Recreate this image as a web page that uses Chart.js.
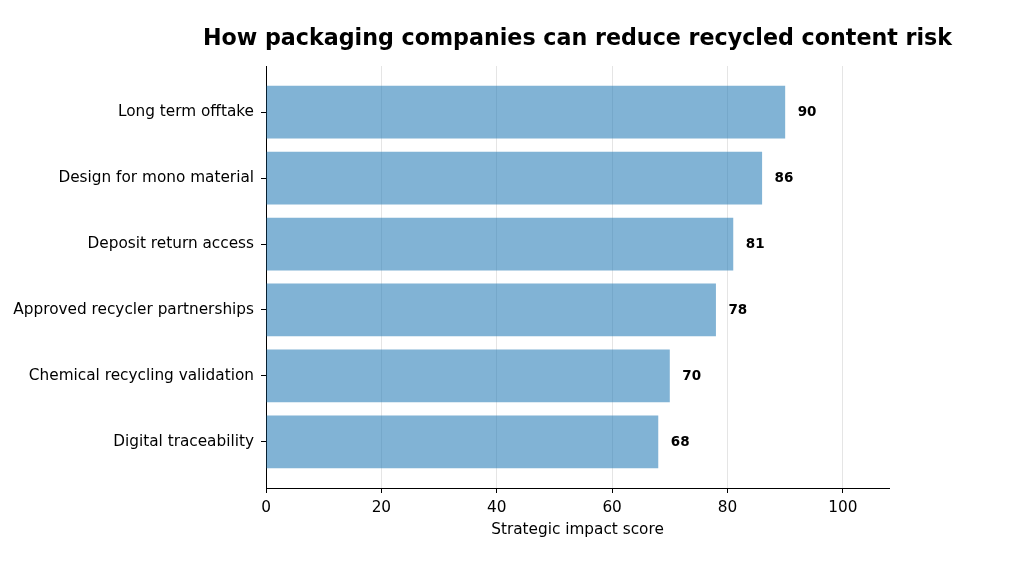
<!DOCTYPE html>
<html>
<head>
<meta charset="utf-8">
<script src="https://cdn.jsdelivr.net/npm/chart.js@4.4.1/dist/chart.umd.min.js"></script>
<style>
    html, body { margin: 0; padding: 0; background: #fff; }
    #wrap { width: 1031px; height: 567px; }
</style>
</head>
<body>
<div id="wrap"><canvas id="impactChart" width="1031" height="567"></canvas></div>
<script>
// Data
const categories = [
    'Long term offtake',
    'Design for mono material',
    'Deposit return access',
    'Approved recycler partnerships',
    'Chemical recycling validation',
    'Digital traceability'
];
const scores = [90, 86, 81, 78, 70, 68];
const xTicks = [0, 20, 40, 60, 80, 100];
const chartTitle = 'How packaging companies can reduce recycled content risk';

const FONT = "'DejaVu Sans', 'Liberation Sans', sans-serif";

// Value labels at bar ends + title centred over the plot area
const valueLabels = {
    id: 'valueLabels',
    afterDatasetsDraw(chart) {
        const ctx = chart.ctx;
        const meta = chart.getDatasetMeta(0);
        ctx.save();
        ctx.font = 'bold 13.5px ' + FONT;
        ctx.fillStyle = '#000';
        ctx.textAlign = 'left';
        ctx.textBaseline = 'middle';
        meta.data.forEach((bar, i) => {
            ctx.fillText(String(scores[i]), bar.x + 12.5, bar.y + 0.5);
        });

        const area = chart.chartArea;
        ctx.font = 'bold 22.2px ' + FONT;
        ctx.textAlign = 'center';
        ctx.fillText(chartTitle, (area.left + area.right) / 2, 39);
        ctx.restore();
    }
};

new Chart(document.getElementById('impactChart'), {
    type: 'bar',
    data: {
        datasets: [{
            data: scores.map((v, i) => ({ x: v, y: i })),
            backgroundColor: 'rgba(31, 119, 180, 0.56)',
            borderWidth: 0,
            categoryPercentage: 1,
            barPercentage: 0.8
        }]
    },
    options: {
        indexAxis: 'y',
        responsive: false,
        animation: false,
        layout: { padding: { left: 0, right: 142, top: 66, bottom: 0 } },
        plugins: {
            legend: { display: false },
            tooltip: { enabled: false },
            title: { display: false }
        },
        scales: {
            x: {
                type: 'linear',
                min: 0,
                max: 108,
                afterFit(scale) { scale.height = 79; },
                afterBuildTicks(scale) { scale.ticks = xTicks.map(v => ({ value: v })); },
                ticks: {
                    color: '#000',
                    font: { family: FONT, size: 15.3 },
                    padding: 5.5,
                    maxRotation: 0
                },
                grid: {
                    color: 'rgba(0,0,0,0.1)',
                    tickColor: '#000',
                    tickLength: 5
                },
                border: { display: true, color: '#000', width: 1 },
                title: {
                    display: true,
                    text: 'Strategic impact score',
                    color: '#000',
                    font: { family: FONT, size: 15.3 },
                    padding: { top: 4, bottom: 28 }
                }
            },
            y: {
                type: 'linear',
                min: -0.7,
                max: 5.7,
                reverse: true,
                offset: false,
                afterFit(scale) { scale.width = 266; },
                afterBuildTicks(scale) { scale.ticks = categories.map((c, i) => ({ value: i })); },
                ticks: {
                    color: '#000',
                    font: { family: FONT, size: 15.3 },
                    padding: 7,
                    callback: (v) => categories[v]
                },
                grid: {
                    offset: false,
                    drawOnChartArea: false,
                    tickColor: '#000',
                    tickLength: 5
                },
                border: { display: true, color: '#000', width: 1 }
            }
        }
    },
    plugins: [valueLabels]
});
</script>
</body>
</html>
